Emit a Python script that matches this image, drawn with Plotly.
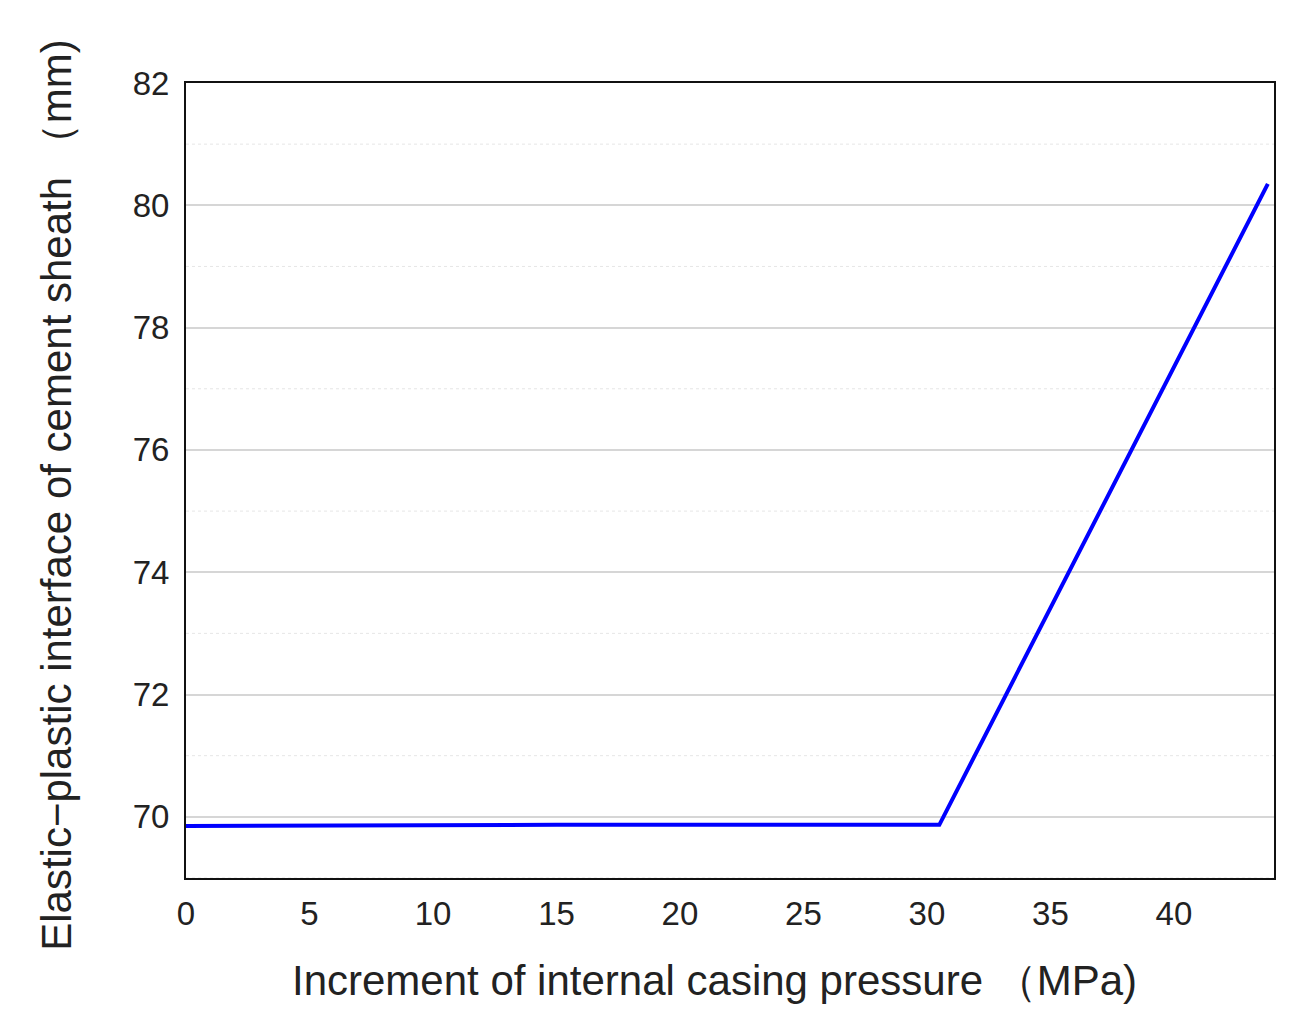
import plotly.graph_objects as go

pressure = [0, 15, 30.5, 43.8]
interface = [69.85, 69.87, 69.87, 80.35]

x_ticks = [0, 5, 10, 15, 20, 25, 30, 35, 40]
y_ticks = [70, 72, 74, 76, 78, 80, 82]
y_minor = [69, 71, 73, 75, 77, 79, 81]

x_title = "Increment of internal casing pressure （MPa)"
y_title = "Elastic−plastic interface of cement sheath （mm)"

fig = go.Figure()
fig.add_trace(go.Scatter(x=pressure, y=interface, mode="lines",
                         line=dict(color="#0000ff", width=4), showlegend=False))

# faint dotted minor grid
for v in y_minor:
    fig.add_shape(type="line", xref="paper", x0=0, x1=1, yref="y", y0=v, y1=v,
                  line=dict(color="#e6e6e6", width=1, dash="dot"), layer="below")

# axis titles placed by hand to sit where the original has them
fig.add_annotation(text=x_title, xref="paper", yref="paper", x=0.486, y=0,
                   xanchor="center", yanchor="middle", yshift=-102,
                   showarrow=False, font=dict(size=42))
fig.add_annotation(text=y_title, xref="paper", yref="paper", x=0, y=0.482,
                   xanchor="center", yanchor="middle", xshift=-129, textangle=-90,
                   showarrow=False, font=dict(size=42))

fig.update_layout(
    width=1302, height=1034,
    margin=dict(l=178, r=36, t=75, b=164),
    paper_bgcolor="white", plot_bgcolor="white",
    font=dict(family="Liberation Sans, Arial", size=33, color="#222222"),
)
fig.update_xaxes(range=[0, 44.05], tickvals=x_ticks, showgrid=False, zeroline=False,
                 showline=True, linecolor="#111111", linewidth=2, mirror=True,
                 ticks="outside", ticklen=5, tickcolor="white")
fig.update_yaxes(range=[69, 82], tickvals=y_ticks, showgrid=True, gridcolor="#d6d6d6",
                 gridwidth=2, zeroline=False,
                 showline=True, linecolor="#111111", linewidth=2, mirror=True,
                 ticks="outside", ticklen=8, tickcolor="white")

fig.write_html("out.html")
